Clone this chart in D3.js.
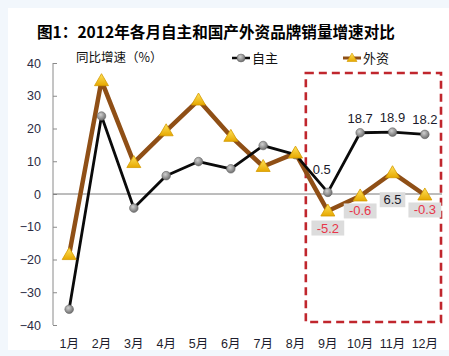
<!DOCTYPE html>
<html><head><meta charset="utf-8">
<script src="https://cdn.jsdelivr.net/npm/d3@7/dist/d3.min.js"></script>
<style>body{margin:0;background:#f2f7fc;}svg{display:block;}</style>
</head><body>
<svg id="c" width="449" height="356"></svg>
<script>
const months = ["1月","2月","3月","4月","5月","6月","7月","8月","9月","10月","11月","12月"];
const ziZhu = [-35.2, 23.8, -4.3, 5.6, 9.9, 7.7, 14.8, 12.0, 0.5, 18.7, 18.9, 18.2];
const waiZi = [-18.5, 34.6, 9.6, 19.3, 28.7, 17.6, 8.4, 12.5, -5.2, -0.6, 6.5, -0.3];
const yTicks = [-40, -30, -20, -10, 0, 10, 20, 30, 40];
const seriesNames = ["自主", "外资"];
const title = "图1：2012年各月自主和国产外资品牌销量增速对比";
const yLabel = "同比增速（%）";
const ziZhuLabelIdx = [8, 9, 10, 11];
const waiZiLabelIdx = [8, 9, 10, 11];

const svg = d3.select("#c");
const font = "'Liberation Sans', Arial, 'Noto Sans CJK SC', sans-serif";
svg.append("rect").attr("x", 8).attr("y", 8).attr("width", 441).attr("height", 342).attr("fill", "#fff");

const defs = svg.append("defs");
const g1 = defs.append("radialGradient").attr("id", "ball").attr("cx", "40%").attr("cy", "35%").attr("r", "65%");
g1.append("stop").attr("offset", "0%").attr("stop-color", "#d0d0d0");
g1.append("stop").attr("offset", "100%").attr("stop-color", "#6e6e6e");
const g2 = defs.append("linearGradient").attr("id", "tri").attr("x1", 0).attr("y1", 0).attr("x2", 0).attr("y2", 1);
g2.append("stop").attr("offset", "0%").attr("stop-color", "#ffe25a");
g2.append("stop").attr("offset", "100%").attr("stop-color", "#e6a800");

const x = d3.scaleBand().domain(months).range([53, 441]);
const xc = m => x(m) + x.bandwidth() / 2;
const y = d3.scaleLinear().domain([-40, 40]).range([325, 63]);

// title
svg.append("text").attr("x", 37).attr("y", 38).attr("font-family", "'Noto Sans CJK SC', sans-serif")
  .attr("font-weight", "bold").attr("font-size", 15.6).attr("fill", "#000").text(title);

// y axis
const yAxis = svg.append("g").attr("transform", "translate(53,0)")
  .call(d3.axisLeft(y).tickValues(yTicks).tickSize(-4).tickPadding(10).tickFormat(d3.format("d")));
yAxis.select(".domain").attr("stroke", "#8a8a8a").attr("d", "M0," + y(40) + "V" + y(-40));
yAxis.selectAll(".tick line").attr("stroke", "#8a8a8a").attr("x2", 4);
yAxis.selectAll(".tick text").attr("font-family", font).attr("font-size", 12.5).attr("fill", "#2c2c44").attr("x", -12);

// zero line
svg.append("line").attr("x1", 53).attr("x2", 442).attr("y1", y(0)).attr("y2", y(0)).attr("stroke", "#7a7a7a").attr("stroke-width", 1);

// x axis labels
const xAxis = svg.append("g").attr("transform", "translate(0,335)")
  .call(d3.axisBottom(x).tickSize(0).tickPadding(4));
xAxis.select(".domain").remove();
xAxis.selectAll(".tick text").attr("font-family", font).attr("font-size", 12.5).attr("fill", "#1e1e2e");

// y label
svg.append("text").attr("x", 76).attr("y", 62).attr("font-family", "'Noto Sans CJK SC', sans-serif")
  .attr("font-size", 12.5).attr("fill", "#111").text(yLabel);

// dashed box
svg.append("rect").attr("x", xc("9月") - 22).attr("y", 73).attr("width", 441 - (xc("9月") - 22)).attr("height", 249)
  .attr("fill", "none").attr("stroke", "#c0262d").attr("stroke-width", 2.6).attr("stroke-dasharray", "8,5");

const line = d3.line().x((d, i) => xc(months[i])).y(d => y(d));
const triPath = "M0,-7L7,5H-7Z";

// waiZi line
svg.append("path").datum(waiZi).attr("d", line).attr("fill", "none").attr("stroke", "#8f4f16").attr("stroke-width", 4.5).attr("stroke-linejoin", "round");
// ziZhu line
svg.append("path").datum(ziZhu).attr("d", line).attr("fill", "none").attr("stroke", "#0a0a0a").attr("stroke-width", 2.8).attr("stroke-linejoin", "round");
// ziZhu markers
svg.selectAll(".zz").data(ziZhu).join("circle").attr("class", "zz")
  .attr("cx", (d, i) => xc(months[i])).attr("cy", d => y(d)).attr("r", 4.3)
  .attr("fill", "url(#ball)").attr("stroke", "#666").attr("stroke-width", 0.6);
// waiZi markers
svg.selectAll(".wz").data(waiZi).join("path").attr("class", "wz")
  .attr("transform", (d, i) => `translate(${xc(months[i])},${y(d)})`).attr("d", triPath)
  .attr("fill", "url(#tri)").attr("stroke", "#d49a00").attr("stroke-width", 0.8);

// data labels ziZhu
ziZhuLabelIdx.forEach(i => {
  const dx = i === 8 ? -6 : 0;
  const dy = i === 8 ? -18 : -10;
  svg.append("text").attr("x", xc(months[i]) + dx).attr("y", y(ziZhu[i]) + dy).attr("text-anchor", "middle")
    .attr("font-family", font).attr("font-size", 13).attr("fill", "#1a1a2a").text(ziZhu[i].toFixed(1));
});
// data labels waiZi
waiZiLabelIdx.forEach(i => {
  const v = waiZi[i];
  const cx = xc(months[i]);
  const cy = i === 10 ? y(v) + 27 : (i === 8 ? y(v) + 17 : y(v) + 15);
  const txt = v.toFixed(1);
  const w = txt.length * 7.2 + 4;
  svg.append("rect").attr("x", cx - w / 2).attr("y", cy - 7.5).attr("width", w).attr("height", 15).attr("fill", "#dcdcdc");
  svg.append("text").attr("x", cx).attr("y", cy + 4.5).attr("text-anchor", "middle")
    .attr("font-family", font).attr("font-size", 13).attr("fill", v < 0 ? "#e8364a" : "#1a1a2a").text(txt);
});

// legend
const leg = [{name: seriesNames[0], x: 232, t: "c"}, {name: seriesNames[1], x: 343, t: "t"}];
leg.forEach(l => {
  const gy = 58;
  if (l.t === "c") {
    svg.append("line").attr("x1", l.x).attr("x2", l.x + 18).attr("y1", gy).attr("y2", gy).attr("stroke", "#0a0a0a").attr("stroke-width", 2.5);
    svg.append("circle").attr("cx", l.x + 9).attr("cy", gy).attr("r", 4).attr("fill", "url(#ball)").attr("stroke", "#666").attr("stroke-width", 0.5);
  } else {
    svg.append("line").attr("x1", l.x).attr("x2", l.x + 18).attr("y1", gy).attr("y2", gy).attr("stroke", "#8f4f16").attr("stroke-width", 3);
    svg.append("path").attr("transform", `translate(${l.x + 9},${gy})`).attr("d", "M0,-5L5,3.5H-5Z").attr("fill", "url(#tri)").attr("stroke", "#d49a00").attr("stroke-width", 0.6);
  }
  svg.append("text").attr("x", l.x + 20).attr("y", gy + 4.5).attr("font-family", "'Noto Sans CJK SC', sans-serif")
    .attr("font-size", 13).attr("fill", "#111").text(l.name);
});
</script>
</body></html>
